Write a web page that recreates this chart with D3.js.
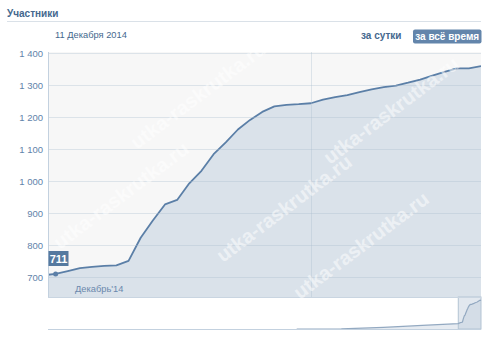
<!DOCTYPE html>
<html><head><meta charset="utf-8">
<script src="https://cdn.jsdelivr.net/npm/d3@7"></script>
<style>
html,body{margin:0;padding:0;background:#fff;}
svg{display:block;font-family:"Liberation Sans",Arial,sans-serif;}
</style></head>
<body>
<svg id="c" width="489" height="343"></svg>
<script>
// ---- data ----
const dates = ["2014-12-10","2014-12-11","2014-12-12","2014-12-13","2014-12-14","2014-12-15","2014-12-16","2014-12-17","2014-12-18","2014-12-19","2014-12-20","2014-12-21","2014-12-22","2014-12-23","2014-12-24","2014-12-25","2014-12-26","2014-12-27","2014-12-28","2014-12-29","2014-12-30","2014-12-31","2015-01-01","2015-01-02","2015-01-03","2015-01-04","2015-01-05","2015-01-06","2015-01-07","2015-01-08","2015-01-09","2015-01-10","2015-01-11","2015-01-12","2015-01-13","2015-01-14","2015-01-15"];
const members = [707,711,720,729,733,736,738,752,824,878,928,942,994,1033,1085,1122,1162,1192,1217,1234,1239,1241,1244,1255,1263,1269,1279,1287,1294,1299,1308,1318,1330,1342,1353,1353,1360];
const yTicks = [700,800,900,1000,1100,1200,1300,1400];
const navDates = ["2014-04-01","2014-06-10","2014-08-15","2014-10-15"];
const navMembers = [556,558,600,655];
const title = "Участники";
const dateLabel = "11 Декабря 2014";
const monthLabel = "Декабрь'14";
const highlightDate = "2014-12-11";
const buttons = ["за сутки","за всё время"];
const watermark = "utka-raskrutka.ru";

// ---- layout ----
const svg = d3.select("#c");
const L = 48, R = 481, T = 52, B = 297, NB = 329;
const parse = d3.timeParse("%Y-%m-%d");
const data = dates.map((d,i)=>({date:parse(d), v:members[i]}));

const x = d3.scaleTime().domain([new Date(2014,11,10,9), new Date(2015,0,15,0)]).range([L,R]);
const y = d3.scaleLinear().domain([639,1404]).range([B,T]);

// header
svg.append("text").attr("x",7).attr("y",17).attr("font-size",10).attr("font-weight","bold")
  .attr("fill","#45688e").text(title);
svg.append("line").attr("x1",7).attr("x2",481).attr("y1",21.5).attr("y2",21.5).attr("stroke","#dae1e8");
svg.append("text").attr("x",55).attr("y",38).attr("font-size",9.3).attr("fill","#45688e").text(dateLabel);
svg.append("text").attr("x",401.5).attr("y",39).attr("text-anchor","end").attr("font-size",10)
  .attr("font-weight","bold").attr("fill","#45688e").text(buttons[0]);
svg.append("rect").attr("x",413).attr("y",29.5).attr("width",68.5).attr("height",14).attr("rx",2).attr("fill","#6385ab");
svg.append("text").attr("x",447.2).attr("y",39.5).attr("text-anchor","middle").attr("font-size",10)
  .attr("font-weight","bold").attr("fill","#fff").text(buttons[1]);

// plot background
svg.append("defs").append("clipPath").attr("id","clip").append("rect")
  .attr("x",L).attr("y",T).attr("width",R-L).attr("height",B-T);
svg.append("rect").attr("x",L).attr("y",T).attr("width",R-L).attr("height",B-T).attr("fill","#f7f7f7");

const g = svg.append("g").attr("clip-path","url(#clip)");
g.append("path").datum(data)
  .attr("d", d3.area().x(d=>x(d.date)).y0(B).y1(d=>y(d.v)))
  .attr("fill","#dae2ea");

// gridlines
svg.append("g").selectAll("line").data(yTicks).join("line")
  .attr("x1",L).attr("x2",R).attr("y1",d=>Math.round(y(d))+0.5).attr("y2",d=>Math.round(y(d))+0.5)
  .attr("stroke","rgba(170,188,206,0.35)");
svg.append("line").attr("x1",Math.round(x(parse("2015-01-01")))+0.5).attr("x2",Math.round(x(parse("2015-01-01")))+0.5)
  .attr("y1",T).attr("y2",B).attr("stroke","rgba(170,188,206,0.35)");

g.append("path").datum(data)
  .attr("d", d3.line().x(d=>x(d.date)).y(d=>y(d.v)))
  .attr("fill","none").attr("stroke","#5b7fa7").attr("stroke-width",1.8).attr("stroke-linejoin","round");

// y axis
const yAxis = d3.axisLeft(y).tickValues(yTicks).tickSize(0).tickPadding(5)
  .tickFormat(d=>d3.format(",")(d).replace(/,/g," "));
const ya = svg.append("g").attr("transform",`translate(${L},0)`).call(yAxis);
ya.select(".domain").remove();
ya.selectAll("text").attr("font-size",9.5).attr("fill","#6283aa").attr("font-family","Liberation Sans, Arial, sans-serif");
svg.append("line").attr("x1",L+0.5).attr("x2",L+0.5).attr("y1",T).attr("y2",NB).attr("stroke","#c3d1df");

// month label
svg.append("text").attr("x",75).attr("y",292).attr("font-size",9.3).attr("fill","#6a88ad").text(monthLabel);

// highlight point + tooltip
const hp = data.find(d=>+d.date===+parse(highlightDate));
svg.append("circle").attr("cx",x(hp.date)).attr("cy",y(hp.v)).attr("r",2.5).attr("fill","#5b7fa7");
svg.append("rect").attr("x",48.5).attr("y",251).attr("width",20).attr("height",15).attr("fill","#55799f");
svg.append("text").attr("x",58.5).attr("y",262.5).attr("text-anchor","middle").attr("font-size",11)
  .attr("font-weight","bold").attr("fill","#fff").text(hp.v);

// navigator
const navData = navDates.map((d,i)=>({date:parse(d), v:navMembers[i]})).concat(data);
const xn = d3.scaleTime().domain([new Date(2013,2,7), new Date(2015,0,15)]).range([L,R]);
const yn = d3.scaleLinear().domain([556,1362]).range([NB,300]);
svg.append("rect").attr("x",L).attr("y",B).attr("width",R-L).attr("height",NB-B).attr("fill","#fff");
svg.append("path").datum(navData)
  .attr("d", d3.area().x(d=>xn(d.date)).y0(NB).y1(d=>yn(d.v)))
  .attr("fill","#e6ebf1");
const wx0 = xn(x.domain()[0]);
svg.append("rect").attr("x",wx0).attr("y",B).attr("width",R-wx0).attr("height",NB-B)
  .attr("fill","rgba(190,205,220,0.45)").attr("stroke","#b3c3d3");
svg.append("path").datum(navData)
  .attr("d", d3.line().x(d=>xn(d.date)).y(d=>yn(d.v)))
  .attr("fill","none").attr("stroke","#93a9c1").attr("stroke-width",1.2);
svg.append("line").attr("x1",L).attr("x2",R).attr("y1",B+0.5).attr("y2",B+0.5).attr("stroke","#c9d5e1");
svg.append("line").attr("x1",L).attr("x2",R).attr("y1",NB+0.5).attr("y2",NB+0.5).attr("stroke","#c3d1df");

// watermarks
const wmPos = [[137,150],[223,263],[300,300],[60,250],[330,165]];
svg.append("g").selectAll("text").data(wmPos).join("text")
  .attr("transform",d=>`translate(${d[0]},${d[1]}) rotate(-37)`)
  .attr("font-size",20).attr("font-weight","bold").attr("fill","#fff").attr("opacity",0.5)
  .text(watermark);
</script>
</body></html>
